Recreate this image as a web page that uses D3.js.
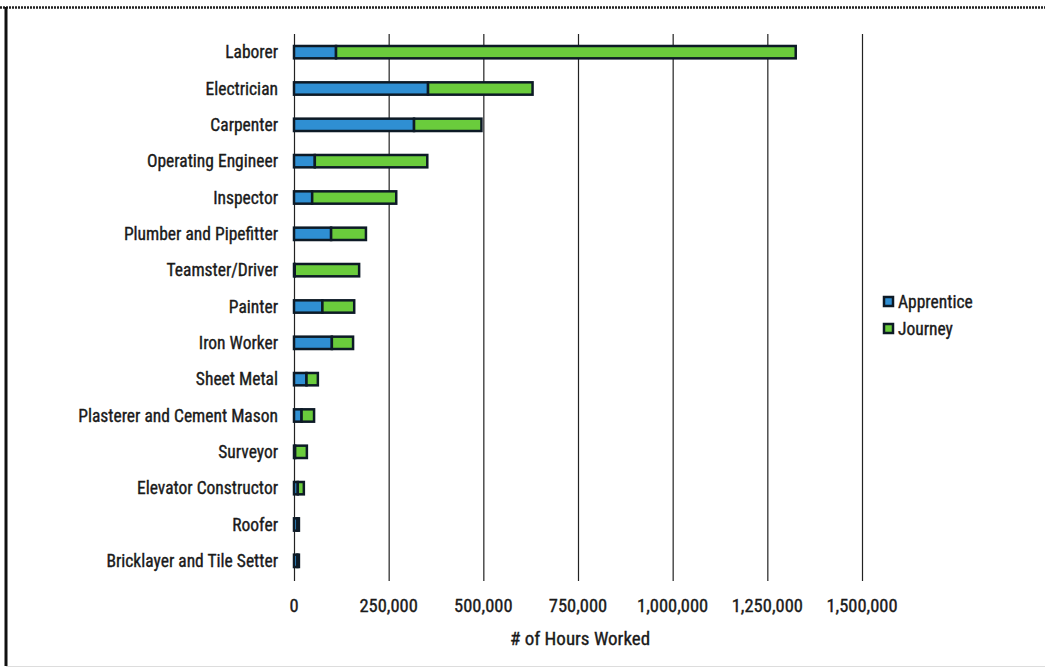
<!DOCTYPE html>
<html><head><meta charset="utf-8">
<script src="https://cdn.jsdelivr.net/npm/d3@7"></script>
<style>
html,body{margin:0;padding:0;background:#fff;}
svg text{font-family:"Liberation Sans Narrow","Arial Narrow","Roboto Condensed",sans-serif;}
</style></head>
<body><svg id="c" width="1045" height="668"></svg>
<script>
const categories = ["Laborer","Electrician","Carpenter","Operating Engineer","Inspector","Plumber and Pipefitter","Teamster/Driver","Painter","Iron Worker","Sheet Metal","Plasterer and Cement Mason","Surveyor","Elevator Constructor","Roofer","Bricklayer and Tile Setter"];
const apprentice = [111000,354000,317000,55000,48000,98000,2000,75000,100000,33000,20000,3000,10000,9000,9000];
const journey    = [1214000,276000,178000,297000,222000,92000,170000,84000,56000,30000,33000,31000,16000,4000,4000];
const seriesNames = ["Apprentice","Journey"];
const seriesColors = ["#2f8fd3","#6acc3c"];
const tickValues = [0,250000,500000,750000,1000000,1250000,1500000];

const svg = d3.select("#c");
// frame
svg.append("line").attr("x1",0).attr("x2",1045).attr("y1",7.5).attr("y2",7.5).attr("stroke","#222").attr("stroke-width",2.5).attr("stroke-dasharray","2,1");
svg.append("line").attr("x1",6).attr("x2",6).attr("y1",7).attr("y2",666).attr("stroke","#111").attr("stroke-width",3);
svg.append("line").attr("x1",6).attr("x2",1045).attr("y1",666.5).attr("y2",666.5).attr("stroke","#ddd").attr("stroke-width",1);

const x = d3.scaleLinear().domain([0,1500000]).range([294,862]);
const y = d3.scaleBand().domain(categories).range([34,579]).paddingInner(0.66).paddingOuter(0.33);

// gridlines
svg.append("g").selectAll("line").data(tickValues).join("line")
  .attr("x1",d=>x(d)+0.5).attr("x2",d=>x(d)+0.5).attr("y1",34).attr("y2",581)
  .attr("stroke","#222").attr("stroke-width",1.2);

const data = categories.map((c,i)=>({cat:c,Apprentice:apprentice[i],Journey:journey[i]}));
const stacked = d3.stack().keys(seriesNames)(data);

const g = svg.append("g");
stacked.forEach((s,si)=>{
  g.selectAll(null).data(s).join("rect")
    .attr("x",d=>x(d[0]))
    .attr("y",d=>y(d.data.cat))
    .attr("width",d=>Math.max(0,x(d[1])-x(d[0])))
    .attr("height",y.bandwidth())
    .attr("fill",seriesColors[si])
    .attr("stroke","#0d1a26").attr("stroke-width",2.5);
});

const txt = sel => sel.attr("fill","#1a1a1a").attr("stroke","#1a1a1a").attr("stroke-width",0.35);

// category labels
svg.append("g").selectAll("text").data(categories).join("text")
  .attr("x",278).attr("y",d=>y(d)+y.bandwidth()/2)
  .attr("dy","0.35em").attr("text-anchor","end")
  .attr("font-size",17.5).call(txt).text(d=>d);

// tick labels
svg.append("g").selectAll("text").data(tickValues).join("text")
  .attr("x",d=>x(d)).attr("y",612).attr("text-anchor","middle")
  .attr("font-size",18.5).call(txt).text(d=>d3.format(",")(d));

svg.append("text").attr("x",x(750000)+2).attr("y",645).attr("text-anchor","middle")
  .attr("font-size",19).call(txt).text("# of Hours Worked");

// legend
const lg = svg.append("g").attr("transform","translate(884,302)");
seriesNames.forEach((n,i)=>{
  lg.append("rect").attr("x",0).attr("y",i*27-5).attr("width",9).attr("height",9)
    .attr("fill",seriesColors[i]).attr("stroke","#0d1a26").attr("stroke-width",2.5);
  lg.append("text").attr("x",14).attr("y",i*27).attr("dy","0.35em")
    .attr("font-size",17.5).call(txt).text(n);
});
</script></body></html>
